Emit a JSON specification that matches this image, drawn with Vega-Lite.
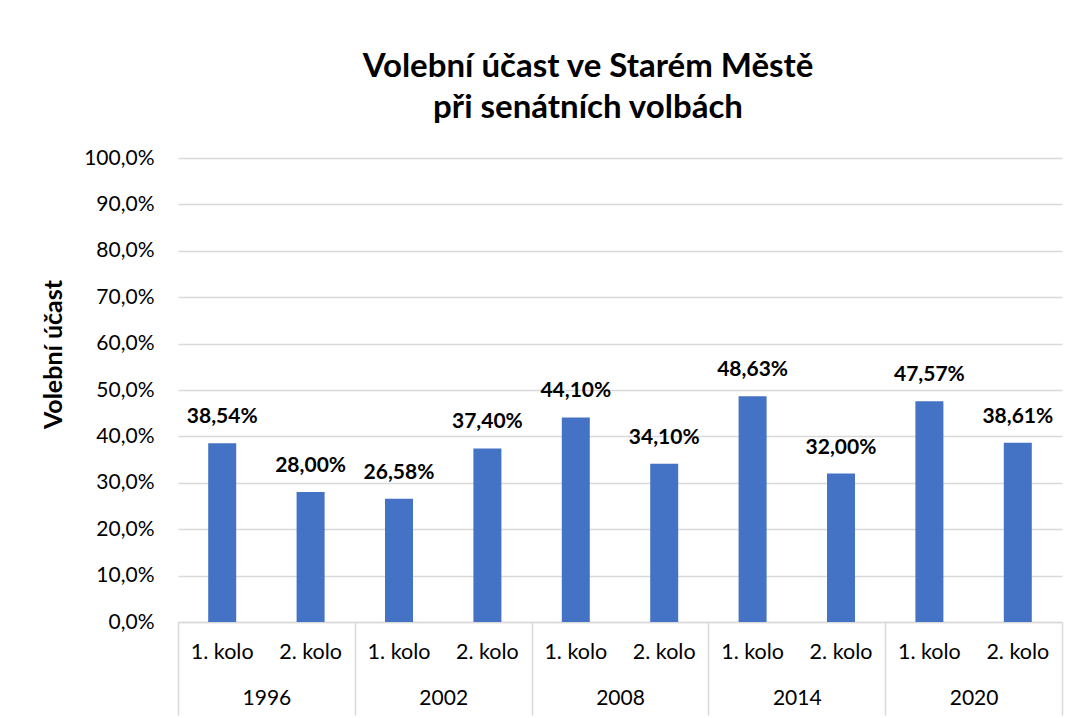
{
  "$schema": "https://vega.github.io/schema/vega-lite/v6.json",
  "width": 884,
  "height": 464,
  "autosize": "none",
  "padding": {"left": 178, "top": 158, "right": 15, "bottom": 96},
  "background": "white",
  "title": {
    "text": ["Volební účast ve Starém Městě", "při senátních volbách"],
    "font": "Lato",
    "fontSize": 33,
    "fontWeight": "bold",
    "color": "#000000",
    "anchor": "middle",
    "frame": "group",
    "offset": 22,
    "lineHeight": 41,
    "dx": -32
  },
  "config": {
    "locale": {
      "number": {"decimal": ",", "thousands": "\u00a0", "grouping": [3], "currency": ["", "\u00a0Kč"]}
    },
    "view": {"stroke": null},
    "font": "Lato"
  },
  "data": {
    "values": [
      {"rok": "1996", "kolo": "1. kolo", "kat": "1996 1. kolo", "ucast": 0.3854},
      {"rok": "1996", "kolo": "2. kolo", "kat": "1996 2. kolo", "ucast": 0.28},
      {"rok": "2002", "kolo": "1. kolo", "kat": "2002 1. kolo", "ucast": 0.2658},
      {"rok": "2002", "kolo": "2. kolo", "kat": "2002 2. kolo", "ucast": 0.374},
      {"rok": "2008", "kolo": "1. kolo", "kat": "2008 1. kolo", "ucast": 0.441},
      {"rok": "2008", "kolo": "2. kolo", "kat": "2008 2. kolo", "ucast": 0.341},
      {"rok": "2014", "kolo": "1. kolo", "kat": "2014 1. kolo", "ucast": 0.4863},
      {"rok": "2014", "kolo": "2. kolo", "kat": "2014 2. kolo", "ucast": 0.32},
      {"rok": "2020", "kolo": "1. kolo", "kat": "2020 1. kolo", "ucast": 0.4757},
      {"rok": "2020", "kolo": "2. kolo", "kat": "2020 2. kolo", "ucast": 0.3861}
    ]
  },
  "layer": [
    {
      "encoding": {
        "x": {
          "field": "kat",
          "type": "nominal",
          "sort": null,
          "scale": {"paddingInner": 0, "paddingOuter": 0},
          "axis": {
            "title": null,
            "labelExpr": "substring(datum.value, 5)",
            "labelAngle": 0,
            "labelFontSize": 21.5,
            "labelColor": "#000000",
            "labelPadding": 19,
            "ticks": false,
            "domain": true,
            "domainColor": "#d9d9d9",
            "domainWidth": 1.5,
            "grid": false,
            "labelOverlap": false
          }
        },
        "y": {
          "field": "ucast",
          "type": "quantitative",
          "scale": {"domain": [0, 1], "nice": false},
          "axis": {
            "title": "Volební účast",
            "titleFontSize": 25,
            "titleFontWeight": "bold",
            "titleColor": "#000000",
            "titlePadding": 17,
            "titleY": 196,
            "format": ".1%",
            "values": [0, 0.1, 0.2, 0.3, 0.4, 0.5, 0.6, 0.7, 0.8, 0.9, 1],
            "labelFontSize": 21,
            "labelColor": "#000000",
            "labelPadding": 24,
            "ticks": false,
            "domain": false,
            "grid": true,
            "gridColor": "#d9d9d9",
            "gridWidth": 1.5
          }
        }
      },
      "layer": [
        {"mark": {"type": "bar", "color": "#4472C4", "width": 28}},
        {
          "mark": {"type": "text", "font": "Lato", "fontSize": 21, "fontWeight": "bold", "color": "#000000", "baseline": "alphabetic", "dy": -20},
          "encoding": {
            "text": {"field": "ucast", "type": "quantitative", "format": ".2%"}
          }
        }
      ]
    },
    {
      "mark": {"type": "bar", "opacity": 0},
      "encoding": {
        "x": {
          "field": "rok",
          "type": "ordinal",
          "sort": null,
          "scale": {"paddingInner": 0, "paddingOuter": 0},
          "axis": {
            "orient": "bottom",
            "title": null,
            "labelAngle": 0,
            "labelFontSize": 21,
            "labelColor": "#000000",
            "ticks": true,
            "tickBand": "extent",
            "tickSize": 93,
            "tickColor": "#d9d9d9",
            "tickWidth": 1.5,
            "labelPadding": -28,
            "domain": false,
            "grid": false,
            "labelOverlap": false
          }
        },
        "y": {"datum": 0, "type": "quantitative"}
      }
    }
  ],
  "resolve": {"scale": {"x": "independent"}}
}
